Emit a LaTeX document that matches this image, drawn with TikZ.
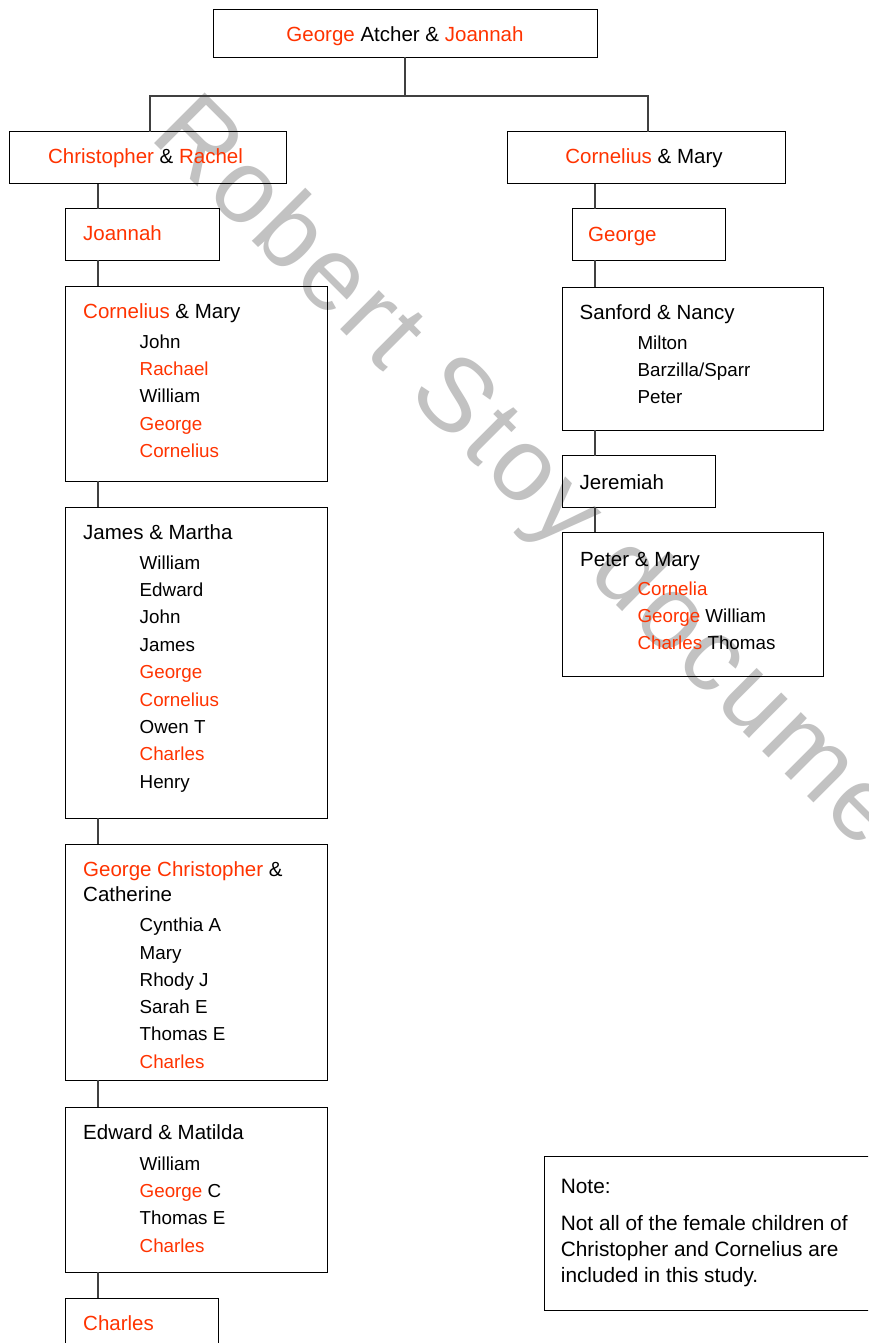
\documentclass[tikz,border=0pt]{standalone}
\usepackage{fontspec}
\setmainfont{Liberation Sans}
\newfontfamily\wmfont[LetterSpace=4]{Liberation Sans}
\definecolor{accent}{RGB}{255,51,0}
\newcommand{\rn}[1]{\textcolor{accent}{#1}}
\tikzset{
  box/.style={draw=black, line width=1pt, anchor=north west, inner sep=0pt, outer sep=0pt},
  conn/.style={draw=black!75, line width=1.2pt},
  hd/.style={anchor=base west, inner sep=0pt, font=\fontsize{20.5}{24}\selectfont},
  nt/.style={anchor=base west, inner sep=0pt, font=\fontsize{20.8}{24}\selectfont},
  hdc/.style={anchor=base, inner sep=0pt, font=\fontsize{20.5}{24}\selectfont},
  ch/.style={anchor=base west, inner sep=0pt, font=\fontsize{18.8}{22}\selectfont},
  wmark/.style={anchor=base west, inner sep=0pt, rotate=-45, text=black!24, font=\wmfont\fontsize{104}{104}\selectfont}
}
\begin{document}
\begin{tikzpicture}[x=1pt,y=-1pt]
\clip (0,0) rectangle (868,1343);
\fill[white] (0,0) rectangle (868,1343);
% watermark
\node[wmark] (wm) at (148,137) {Robert Stoy document};
% boxes
\node[box, minimum width=384pt, minimum height=48pt] (top) at (213,9.5) {};
\node[box, minimum width=277pt, minimum height=52pt] (chr) at (9,132) {};
\node[box, minimum width=278pt, minimum height=52pt] (cor) at (507,132) {};
\node[box, minimum width=154.5pt, minimum height=51.5pt] (joa) at (65,208.5) {};
\node[box, minimum width=153pt, minimum height=51.5pt] (geo) at (572,208.5) {};
\node[box, minimum width=262pt, minimum height=195pt] (lcm) at (65,286) {};
\node[box, minimum width=262pt, minimum height=311pt] (jm) at (65,507) {};
\node[box, minimum width=262pt, minimum height=236pt] (gc) at (65,844) {};
\node[box, minimum width=262pt, minimum height=165pt] (em) at (65,1107) {};
\node[box, minimum width=153pt, minimum height=60pt] (cha) at (65,1298) {};
\node[box, minimum width=261pt, minimum height=143pt] (sn) at (562,287) {};
\node[box, minimum width=153.5pt, minimum height=51.5pt] (jer) at (562,455.5) {};
\node[box, minimum width=261pt, minimum height=144pt] (pm) at (562,532) {};
\node[box, minimum width=340pt, minimum height=154pt] (note) at (544,1156) {};
% connectors
\coordinate (j) at (405,96);
\coordinate (lx) at (98,0);
\coordinate (rx) at (595,0);
\coordinate (cl) at (150,0);
\coordinate (cr) at (648,0);
\draw[conn] (top.south) -- (j);
\draw[conn] (chr.north -| cl) |- (j) -| (cor.north -| cr);
\draw[conn] (chr.south -| lx) -- (joa.north -| lx);
\draw[conn] (joa.south -| lx) -- (lcm.north -| lx);
\draw[conn] (lcm.south -| lx) -- (jm.north -| lx);
\draw[conn] (jm.south -| lx) -- (gc.north -| lx);
\draw[conn] (gc.south -| lx) -- (em.north -| lx);
\draw[conn] (em.south -| lx) -- (cha.north -| lx);
\draw[conn] (cor.south -| rx) -- (geo.north -| rx);
\draw[conn] (geo.south -| rx) -- (sn.north -| rx);
\draw[conn] (sn.south -| rx) -- (jer.north -| rx);
\draw[conn] (jer.south -| rx) -- (pm.north -| rx);
% texts
\node[hdc] (t-top) at (405,41.7) {\rn{George} Atcher \& \rn{Joannah}};
\node[hdc] (t-chr) at (145.5,163.3) {\rn{Christopher} \& \rn{Rachel}};
\node[hdc] (t-cor) at (644,163.3) {\rn{Cornelius} \& Mary};
\node[hd] (t-joa) at (83,240.7) {\rn{Joannah}};
\node[hd] (t-geo) at (588,241) {\rn{George}};
% left Cornelius & Mary
\node[hd] (t-lcm) at (83,318.3) {\rn{Cornelius} \& Mary};
\foreach \t [count=\i from 0] in {John,\rn{Rachael},William,\rn{George},\rn{Cornelius}}
  \node[ch] (lcm-\i) at (139.5,{348.3+27.3*\i}) {\t};
% James & Martha
\node[hd] (t-jm) at (83,539) {James \& Martha};
\foreach \t [count=\i from 0] in {William,Edward,John,James,\rn{George},\rn{Cornelius},Owen T,\rn{Charles},Henry}
  \node[ch] (jm-\i) at (139.5,{569+27.4*\i}) {\t};
% George Christopher & Catherine
\node[hd] (t-gc) at (83,876.7) {\rn{George Christopher} \&};
\node[hd] (t-gc2) at (83,901.7) {Catherine};
\foreach \t [count=\i from 0] in {Cynthia A,Mary,Rhody J,Sarah E,Thomas E,\rn{Charles}}
  \node[ch] (gc-\i) at (139.5,{931.7+27.3*\i}) {\t};
% Edward & Matilda
\node[hd] (t-em) at (83,1139.3) {Edward \& Matilda};
\foreach \t [count=\i from 0] in {William,\rn{George} C,Thomas E,\rn{Charles}}
  \node[ch] (em-\i) at (139.5,{1170+27.4*\i}) {\t};
\node[hd] (t-cha) at (83,1330) {\rn{Charles}};
% right column
\node[hd] (t-sn) at (579.5,319.3) {Sanford \& Nancy};
\foreach \t [count=\i from 0] in {Milton,Barzilla/Sparr,Peter}
  \node[ch] (sn-\i) at (637.3,{349+27.3*\i}) {\t};
\node[hd] (t-jer) at (579.5,489.3) {Jeremiah};
\node[hd] (t-pm) at (580,566) {Peter \& Mary};
\foreach \t [count=\i from 0] in {\rn{Cornelia},\rn{George} William,\rn{Charles} Thomas}
  \node[ch] (pm-\i) at (637.3,{595.3+27.1*\i}) {\t};
% note
\node[nt] (n0) at (560.7,1193.3) {Note:};
\node[nt] (n1) at (560.7,1230.7) {Not all of the female children of};
\node[nt] (n2) at (560.7,1256.7) {Christopher and Cornelius are};
\node[nt] (n3) at (560.7,1282.2) {included in this study.};
\end{tikzpicture}
\end{document}
